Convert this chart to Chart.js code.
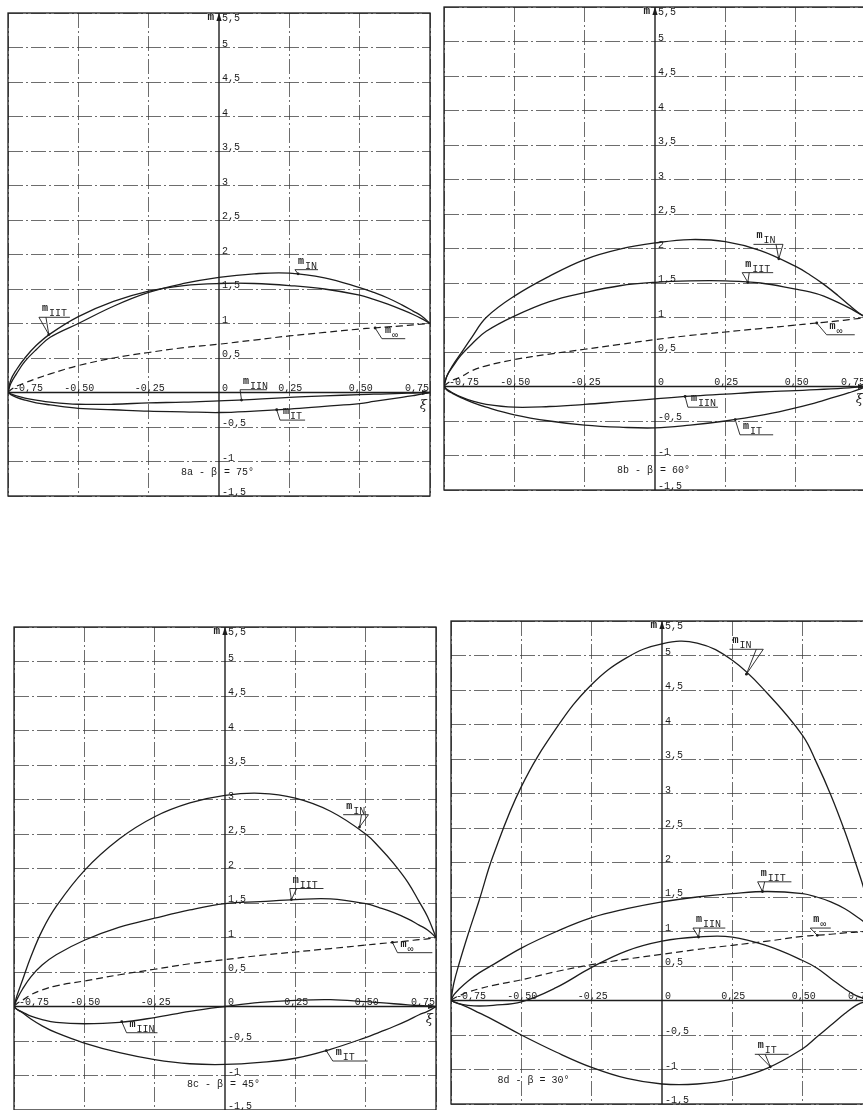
<!DOCTYPE html>
<html>
<head>
<meta charset="utf-8">
<script src="https://cdn.jsdelivr.net/npm/chart.js@4.4.0/dist/chart.umd.min.js"></script>
<style>
  html, body { margin: 0; padding: 0; background: #fff; width: 863px; height: 1110px; overflow: hidden; position: relative; }
  canvas { position: absolute; }
</style>
</head>
<body>
<canvas id="p8a"></canvas>
<canvas id="p8b"></canvas>
<canvas id="p8c"></canvas>
<canvas id="p8d"></canvas>
<script>
// abscissa ξ, shared by every curve
const xi = [-0.75, -0.74, -0.72, -0.69, -0.65, -0.6, -0.5, -0.375, -0.25, -0.125, 0, 0.125, 0.25, 0.375, 0.5, 0.55, 0.6, 0.65, 0.69, 0.72, 0.75];

// 8a — β = 75°
const mIN_a   = [0, 0.13, 0.27, 0.45, 0.62, 0.80, 1.00, 1.25, 1.45, 1.58, 1.67, 1.72, 1.73, 1.66, 1.52, 1.45, 1.37, 1.27, 1.18, 1.11, 1.0];
const mIIT_a  = [0, 0.18, 0.33, 0.50, 0.68, 0.85, 1.10, 1.32, 1.47, 1.55, 1.58, 1.58, 1.55, 1.50, 1.41, 1.35, 1.28, 1.20, 1.13, 1.07, 1.0];
const mInf_a  = [0, 0.04, 0.09, 0.14, 0.20, 0.27, 0.39, 0.50, 0.58, 0.65, 0.70, 0.76, 0.82, 0.87, 0.92, 0.935, 0.95, 0.965, 0.98, 0.99, 1.0];
const mIIN_a  = [0, -0.02, -0.05, -0.08, -0.11, -0.14, -0.17, -0.17, -0.15, -0.14, -0.12, -0.10, -0.07, -0.05, -0.03, -0.025, -0.02, -0.013, -0.008, -0.005, 0];
const mIT_a   = [0, -0.03, -0.07, -0.11, -0.15, -0.18, -0.23, -0.25, -0.27, -0.28, -0.29, -0.27, -0.24, -0.20, -0.16, -0.13, -0.10, -0.07, -0.045, -0.025, 0];

// 8b — β = 60°
const mIN_b   = [0, 0.15, 0.30, 0.48, 0.72, 1.00, 1.31, 1.60, 1.84, 1.99, 2.08, 2.13, 2.10, 1.97, 1.74, 1.62, 1.48, 1.32, 1.18, 1.08, 1.0];
const mIIT_b  = [0, 0.15, 0.28, 0.45, 0.62, 0.80, 1.02, 1.23, 1.36, 1.46, 1.51, 1.53, 1.53, 1.50, 1.41, 1.37, 1.31, 1.22, 1.14, 1.07, 1.0];
const mInf_b  = [0, 0.04, 0.09, 0.14, 0.23, 0.30, 0.39, 0.47, 0.54, 0.61, 0.68, 0.74, 0.79, 0.84, 0.89, 0.91, 0.93, 0.95, 0.97, 0.985, 1.0];
const mIIN_b  = [0, -0.04, -0.09, -0.15, -0.21, -0.26, -0.30, -0.29, -0.26, -0.22, -0.18, -0.14, -0.11, -0.08, -0.06, -0.05, -0.04, -0.03, -0.02, -0.01, 0];
const mIT_b   = [0, -0.05, -0.10, -0.16, -0.23, -0.30, -0.41, -0.50, -0.56, -0.59, -0.60, -0.56, -0.50, -0.42, -0.31, -0.26, -0.20, -0.14, -0.09, -0.05, 0];

// 8c — β = 45°
const mIN_c   = [0, 0.15, 0.38, 0.72, 1.10, 1.45, 1.97, 2.43, 2.75, 2.95, 3.06, 3.09, 3.02, 2.83, 2.50, 2.30, 2.07, 1.80, 1.52, 1.30, 1.0];
const mIIT_c  = [0, 0.10, 0.25, 0.43, 0.60, 0.75, 0.96, 1.15, 1.28, 1.40, 1.49, 1.52, 1.55, 1.56, 1.49, 1.43, 1.36, 1.27, 1.18, 1.11, 1.0];
const mInf_c  = [0, 0.04, 0.09, 0.17, 0.24, 0.30, 0.37, 0.46, 0.54, 0.62, 0.68, 0.74, 0.79, 0.84, 0.89, 0.91, 0.93, 0.95, 0.97, 0.98, 1.0];
const mIIN_c  = [0, -0.04, -0.08, -0.14, -0.19, -0.23, -0.25, -0.23, -0.16, -0.07, 0, 0.06, 0.09, 0.10, 0.07, 0.055, 0.04, 0.025, 0.015, 0.01, 0];
const mIT_c   = [0, -0.04, -0.09, -0.18, -0.28, -0.38, -0.53, -0.67, -0.77, -0.83, -0.84, -0.81, -0.75, -0.62, -0.45, -0.37, -0.29, -0.20, -0.12, -0.07, 0];

// 8d — β = 30°
const mIN_d   = [0, 0.25, 0.55, 0.95, 1.45, 2.10, 3.10, 3.95, 4.58, 4.97, 5.17, 5.18, 4.93, 4.45, 3.84, 3.44, 2.98, 2.45, 1.97, 1.58, 1.0];
const mIIT_d  = [0, 0.08, 0.17, 0.28, 0.40, 0.52, 0.76, 1.00, 1.20, 1.33, 1.43, 1.50, 1.55, 1.58, 1.55, 1.50, 1.43, 1.33, 1.22, 1.13, 1.0];
const mInf_d  = [0, 0.03, 0.07, 0.12, 0.17, 0.22, 0.30, 0.42, 0.52, 0.60, 0.67, 0.74, 0.80, 0.86, 0.93, 0.945, 0.96, 0.98, 0.99, 1.00, 1.0];
const mIIN_d  = [0, -0.02, -0.05, -0.07, -0.08, -0.07, -0.02, 0.19, 0.48, 0.72, 0.86, 0.92, 0.92, 0.79, 0.58, 0.47, 0.32, 0.17, 0.07, 0.03, 0];
const mIT_d   = [0, -0.02, -0.05, -0.10, -0.18, -0.28, -0.50, -0.75, -0.97, -1.13, -1.21, -1.21, -1.14, -0.98, -0.70, -0.53, -0.36, -0.19, -0.07, -0.02, 0];

// axis ticks
const xTickValues = [-0.75, -0.5, -0.25, 0, 0.25, 0.5, 0.75];
const xTickLabels = ['-0,75', '-0,50', '-0,25', '0', '0,25', '0,50', '0,75'];
const yTickValues = [-1.5, -1, -0.5, 0.5, 1, 1.5, 2, 2.5, 3, 3.5, 4, 4.5, 5, 5.5];
const yTickLabels = ['-1,5', '-1', '-0,5', '0,5', '1', '1,5', '2', '2,5', '3', '3,5', '4', '4,5', '5', '5,5'];

// curve tags: [subscript, curve ξ, curve m, underline ξ from, underline ξ to, underline m, leader attach (0..1), double leader]
const tags_a = [
  ['IN',  0.281, 1.72, 0.270, 0.352, 1.78, 0, false],
  ['IIT', -0.605, 0.84, -0.640, -0.530, 1.09, 0, true],
  ['∞',   0.555, 0.935, 0.579, 0.662, 0.78, 0, false],
  ['IIN', 0.080, -0.11, 0.075, 0.170, 0.04, 0, false],
  ['IT',  0.205, -0.25, 0.217, 0.306, -0.40, 0, false]
];
const tags_b = [
  ['IN',  0.440, 1.85, 0.350, 0.455, 2.06, 1, true],
  ['IIT', 0.330, 1.51, 0.310, 0.420, 1.65, 0, true],
  ['∞',   0.575, 0.92, 0.610, 0.710, 0.75, 0, false],
  ['IIN', 0.107, -0.145, 0.117, 0.224, -0.30, 0, false],
  ['IT',  0.285, -0.48, 0.302, 0.420, -0.70, 0, false]
];
const tags_c = [
  ['IN',  0.478, 2.60, 0.420, 0.510, 2.78, 1, true],
  ['IIT', 0.236, 1.55, 0.230, 0.350, 1.71, 0, true],
  ['∞',   0.595, 0.93, 0.613, 0.737, 0.78, 0, false],
  ['IIN', -0.367, -0.22, -0.350, -0.240, -0.38, 0, false],
  ['IT',  0.360, -0.64, 0.383, 0.507, -0.79, 0, false]
];
const tags_d = [
  ['IN',  0.300, 4.73, 0.240, 0.360, 5.09, 1, true],
  ['IIT', 0.357, 1.58, 0.340, 0.460, 1.72, 0, true],
  ['∞',   0.552, 0.945, 0.527, 0.600, 1.05, 0, false],
  ['IIN', 0.130, 0.92, 0.110, 0.225, 1.05, 0, true],
  ['IT',  0.385, -0.96, 0.330, 0.450, -0.78, 0.1, true]
];

// panel captions: [text left of m-axis, text right of m-axis, m level]
const caption_a = ['8a - β', '= 75°', -1.19];
const caption_b = ['8b - β', '= 60°', -1.25];
const caption_c = ['8c - β', '= 45°', -1.16];
const caption_d = ['8d - β = 30°', '', -1.19];

const FONT = '"Liberation Mono", "DejaVu Sans Mono", monospace';
const INK = '#1d1d1d';

function pts(ys) { return xi.map((x, i) => ({ x: x, y: ys[i] })); }

function line(ctx, x1, y1, x2, y2) {
  ctx.beginPath(); ctx.moveTo(x1, y1); ctx.lineTo(x2, y2); ctx.stroke();
}

// axes, arrows, tick labels, tags and caption drawn on top of the library's grid
const paperPlot = {
  id: 'paperPlot',
  afterDatasetsDraw(chart, args, opts) {
    const ctx = chart.ctx;
    const xs = chart.scales.x, ys = chart.scales.y;
    const X = v => xs.getPixelForValue(v);
    const Y = v => ys.getPixelForValue(v);
    const a = chart.chartArea;
    const x0 = X(0), y0 = Y(0);
    ctx.save();
    ctx.strokeStyle = INK; ctx.fillStyle = INK;

    // coordinate axes
    ctx.lineWidth = 1.4;
    line(ctx, a.left, y0, a.right, y0);
    line(ctx, x0, a.top, x0, a.bottom);
    ctx.beginPath();
    ctx.moveTo(x0, a.top); ctx.lineTo(x0 - 2.6, a.top + 8); ctx.lineTo(x0 + 2.6, a.top + 8); ctx.closePath(); ctx.fill();
    ctx.beginPath();
    ctx.moveTo(a.right, y0); ctx.lineTo(a.right - 8, y0 - 2.6); ctx.lineTo(a.right - 8, y0 + 2.6); ctx.closePath(); ctx.fill();

    // axis names
    ctx.font = 'bold 11px ' + FONT;
    ctx.textAlign = 'right'; ctx.textBaseline = 'alphabetic';
    ctx.fillText('m', x0 - 5, a.top + 7);
    ctx.font = 'italic 13px "DejaVu Serif", serif';
    ctx.fillText('ξ', a.right - 3, y0 + 16);

    // tick labels
    ctx.font = '10px ' + FONT;
    xTickValues.forEach((v, i) => {
      const px = X(v);
      if (i === 0) { ctx.textAlign = 'left'; ctx.fillText(xTickLabels[i], px + 5, y0 - 2); }
      else if (i === xTickValues.length - 1) { ctx.textAlign = 'right'; ctx.fillText(xTickLabels[i], px - 1, y0 - 2); }
      else if (v === 0) { ctx.textAlign = 'left'; ctx.fillText(xTickLabels[i], px + 3, y0 - 2); }
      else { ctx.textAlign = 'center'; ctx.fillText(xTickLabels[i], px + 1, y0 - 2); }
    });
    ctx.textAlign = 'left';
    yTickValues.forEach((v, i) => {
      const py = Y(v);
      const base = (v === ys.max) ? py + 8 : py - 1;
      ctx.fillText(yTickLabels[i], x0 + 3, base);
    });

    // curve tags
    ctx.lineWidth = 0.9;
    opts.tags.forEach(t => {
      const [sub, cx, cy, u1, u2, uy, at, dbl] = t;
      const pcx = X(cx), pcy = Y(cy), pu1 = X(u1), pu2 = X(u2), puy = Y(uy);
      line(ctx, pu1, puy, pu2, puy);
      const ax = pu1 + (pu2 - pu1) * at;
      line(ctx, ax, puy, pcx, pcy);
      if (dbl) line(ctx, ax + (at > 0.5 ? -7 : 7), puy, pcx, pcy);
      ctx.beginPath(); ctx.arc(pcx, pcy, 1.4, 0, Math.PI * 2); ctx.fill();
      ctx.textAlign = 'left';
      ctx.font = 'bold 10px ' + FONT;
      const tx = pu1 + 3;
      ctx.fillText('m', tx, puy - 6);
      const mw = ctx.measureText('m').width;
      ctx.font = '10px ' + FONT;
      ctx.fillText(sub, tx + mw + 1, puy - 1);
    });

    // caption
    const cap = opts.caption;
    ctx.font = '10px ' + FONT;
    if (cap[1]) {
      ctx.textAlign = 'right'; ctx.fillText(cap[0], x0 - 2, Y(cap[2]));
      ctx.textAlign = 'left'; ctx.fillText(cap[1], x0 + 5, Y(cap[2]));
    } else {
      ctx.textAlign = 'left'; ctx.fillText(cap[0], X(-0.585), Y(cap[2]));
    }

    // frame
    ctx.lineWidth = 1.3;
    ctx.strokeRect(a.left, a.top, a.right - a.left, a.bottom - a.top);
    ctx.restore();
  }
};

const GRID = 'rgba(60,60,60,0.75)';
function gridColor(c) { return (c.tick && Math.abs(c.tick.value) < 1e-9) ? 'rgba(0,0,0,0)' : GRID; }

function makePanel(id, left, top, series, tags, caption) {
  const W = 422, H = 483, PAD = 4;
  const cv = document.getElementById(id);
  cv.width = W + 2 * PAD; cv.height = H + 2 * PAD;
  cv.style.left = (left - PAD) + 'px'; cv.style.top = (top - PAD) + 'px';
  cv.style.width = cv.width + 'px'; cv.style.height = cv.height + 'px';
  const ds = (data, dashed) => ({
    data: pts(data), borderColor: INK, borderWidth: dashed ? 1.2 : 1.3,
    borderDash: dashed ? [7, 4] : [], pointRadius: 0, fill: false,
    tension: 0.4
  });
  new Chart(cv, {
    type: 'line',
    data: { datasets: [ds(series[0]), ds(series[1]), ds(series[2], true), ds(series[3]), ds(series[4])] },
    options: {
      responsive: false, animation: false, devicePixelRatio: 1, events: [],
      layout: { padding: PAD },
      plugins: { legend: { display: false }, tooltip: { enabled: false }, paperPlot: { tags: tags, caption: caption } },
      scales: {
        x: { type: 'linear', min: -0.75, max: 0.75,
             ticks: { display: false, stepSize: 0.25, maxTicksLimit: 50 },
             grid: { color: gridColor, lineWidth: 1, drawTicks: false },
             border: { display: false, dash: [15, 3, 2, 3] } },
        y: { type: 'linear', min: -1.5, max: 5.5,
             ticks: { display: false, stepSize: 0.5, maxTicksLimit: 50 },
             grid: { color: gridColor, lineWidth: 1, drawTicks: false },
             border: { display: false, dash: [15, 3, 2, 3] } }
      }
    },
    plugins: [paperPlot]
  });
}

makePanel('p8a', 8, 13, [mIN_a, mIIT_a, mInf_a, mIIN_a, mIT_a], tags_a, caption_a);
makePanel('p8b', 444, 7, [mIN_b, mIIT_b, mInf_b, mIIN_b, mIT_b], tags_b, caption_b);
makePanel('p8c', 14, 627, [mIN_c, mIIT_c, mInf_c, mIIN_c, mIT_c], tags_c, caption_c);
makePanel('p8d', 451, 621, [mIN_d, mIIT_d, mInf_d, mIIN_d, mIT_d], tags_d, caption_d);
</script>
</body>
</html>
